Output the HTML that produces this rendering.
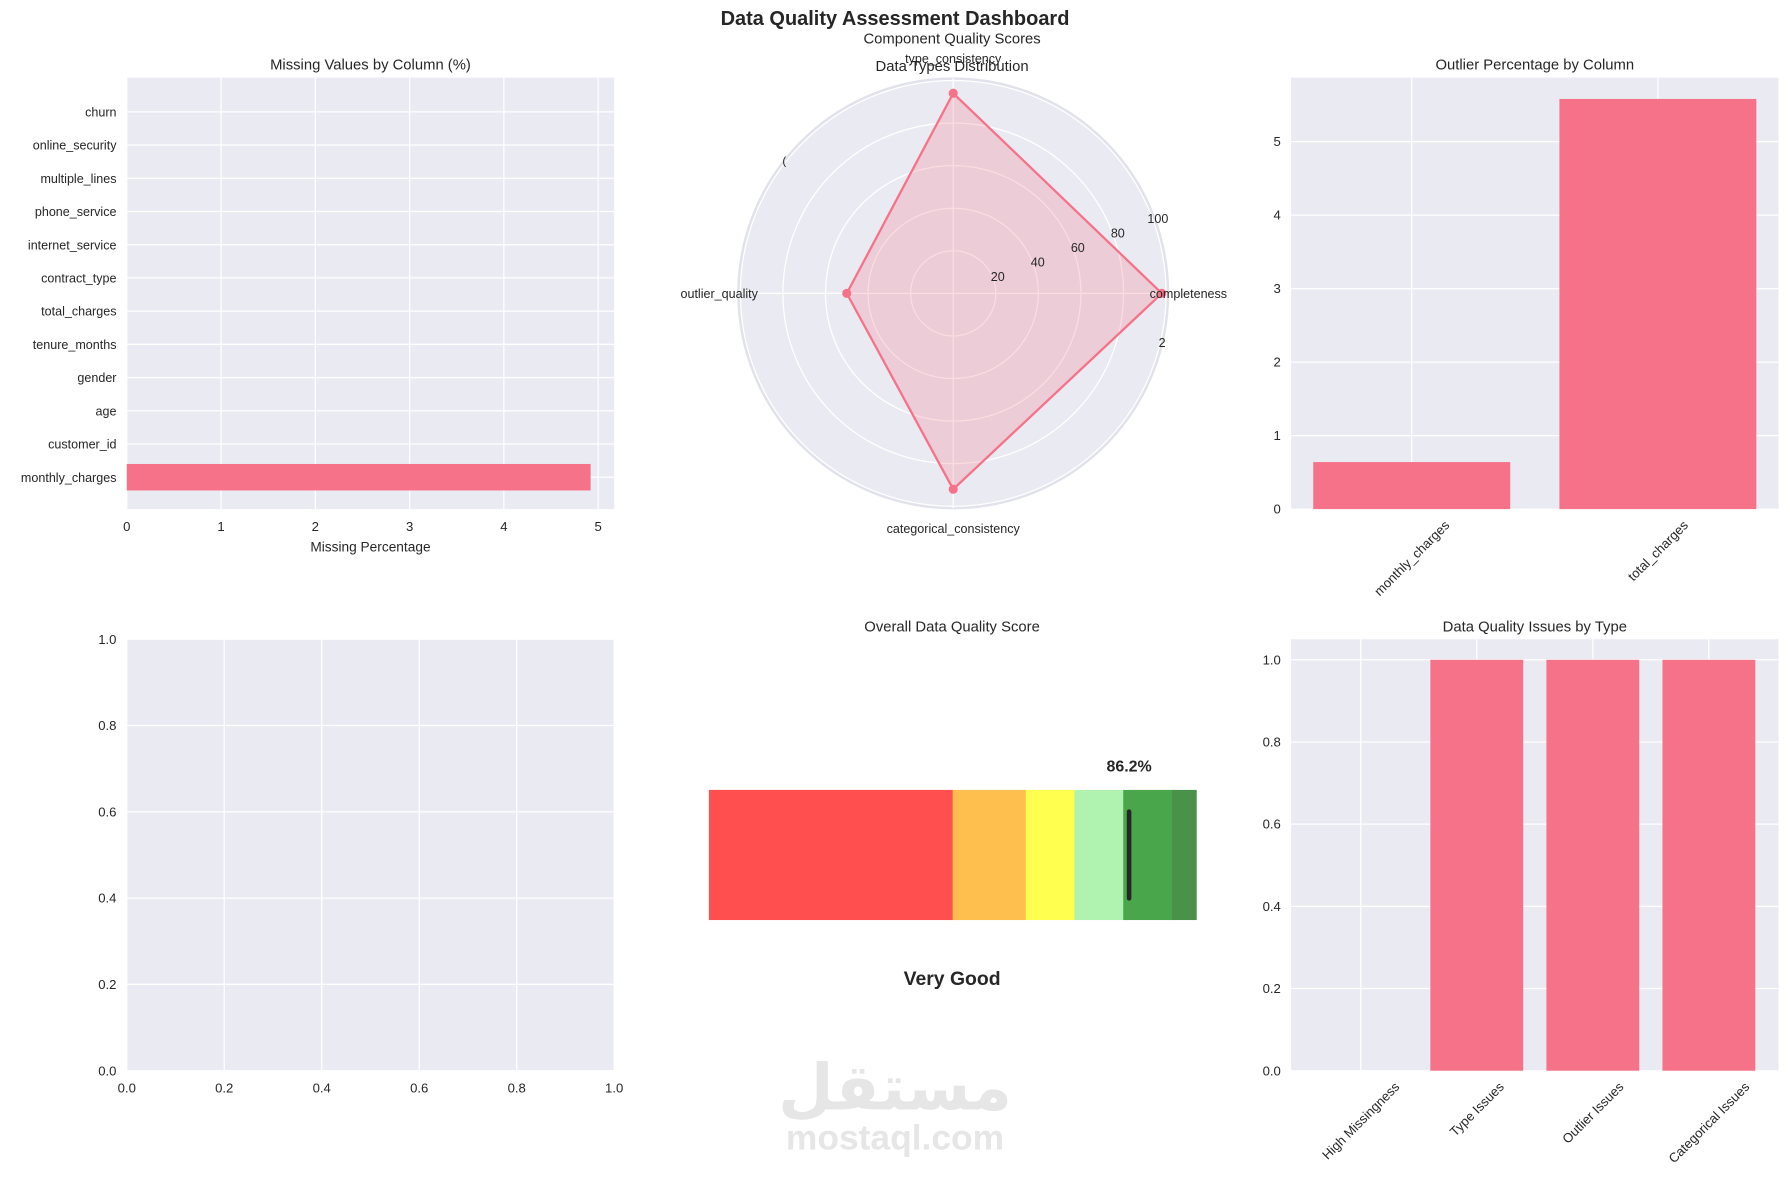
<!DOCTYPE html>
<html><head><meta charset="utf-8"><style>
html,body{margin:0;padding:0;background:#fff;}
svg{display:block;font-family:"Liberation Sans","DejaVu Sans",sans-serif;}
</style></head><body>
<svg id="s" width="1790" height="1181" viewBox="0 0 1568 1034.6" xmlns="http://www.w3.org/2000/svg">
<text x="784" y="22" text-anchor="middle" font-size="17.5" font-weight="bold" fill="#262626">Data Quality Assessment Dashboard</text>
<g fill="#e6e6e6" font-weight="bold" text-anchor="middle">
<text x="784" y="972" font-size="56" font-family="'DejaVu Sans',sans-serif">مستقل</text>
<text x="784" y="1007" font-size="31">mostaql.com</text>
</g>
</svg>
<script>
const NS="http://www.w3.org/2000/svg";
const svg=document.getElementById('s');
const BAR="#f57288",BG="#eaeaf2",TXT="#262626";

const missingCats=["monthly_charges","customer_id","age","gender","tenure_months","total_charges","contract_type","internet_service","phone_service","multiple_lines","online_security","churn"];
const missingVals=[4.92,0,0,0,0,0,0,0,0,0,0,0];
const missingTicks=[0,1,2,3,4,5];

const radarCats=["completeness","type_consistency","outlier_quality","categorical_consistency"];
const radarVals=[98,94,50,92];
const radarTicks=[20,40,60,80,100];

const outlierCats=["monthly_charges","total_charges"];
const outlierVals=[0.64,5.58];
const outlierTicks=[0,1,2,3,4,5];

const emptyTicks=[0,0.2,0.4,0.6,0.8,1.0];

const gaugeBounds=[0,50,65,75,85,95,100];
const gaugeColors=["#ff4f4f","#ffbf4f","#ffff4f","#b0f2b0","#4aa64a","#4a914a"];
const overallScore=86.2;
const overallLabel="Very Good";

const issueCats=["High Missingness","Type Issues","Outlier Issues","Categorical Issues"];
const issueVals=[0,1,1,1];
const issueTicks=[0,0.2,0.4,0.6,0.8,1.0];

function el(tag,attrs,parent,text){const e=document.createElementNS(NS,tag);for(const k in attrs)e.setAttribute(k,attrs[k]);if(text!==undefined)e.textContent=text;(parent||svg).appendChild(e);return e;}
function lin(d0,d1,r0,r1){return v=>r0+(v-d0)*(r1-r0)/(d1-d0);}

// Panel 1: missing values
(function(){
const g=el('g',{});


const L=111,R=538,T=68,B=446;
const x=lin(0,5.17,L,R), y=lin(-0.96,12.03,B,T);
el('rect',{x:L,y:T,width:R-L,height:B-T,fill:BG},g);
missingTicks.forEach(t=>{el('line',{x1:x(t),x2:x(t),y1:T,y2:B,stroke:'#fff','stroke-width':1.1},g);
 const tl=el('text',{x:x(t),y:B+19,'text-anchor':'middle','font-size':11.5,fill:TXT},g,String(t));
 });
missingCats.forEach((c,i)=>{el('line',{x1:L,x2:R,y1:y(i),y2:y(i),stroke:'#fff','stroke-width':1.1},g);
 const tl=el('text',{x:L-9,y:y(i)+4,'text-anchor':'end','font-size':11,fill:TXT},g,c);
 });
missingCats.forEach((c,i)=>{if(missingVals[i]>0){const r=el('rect',{x:x(0),y:y(i)-11.6,width:x(missingVals[i])-x(0),height:23.2,fill:BAR},g);
 }});
const t=el('text',{x:(L+R)/2,y:T-7,'text-anchor':'middle','font-size':13,fill:TXT},g,'Missing Values by Column (%)');

const xl=el('text',{x:(L+R)/2,y:483,'text-anchor':'middle','font-size':12,fill:TXT},g,'Missing Percentage');

})();

// Panel 2: radar
(function(){
const g=el('g',{});


const cx=835,cy=257,scale=1.865;
const r=v=>v*scale;
el('circle',{cx:cx,cy:cy,r:r(100)+1.5,fill:BG,stroke:'#e2e2ec','stroke-width':2.5},g);
radarTicks.forEach(t=>el('circle',{cx:cx,cy:cy,r:r(t),fill:'none',stroke:'#fff','stroke-width':1.1},g));
radarCats.forEach((c,i)=>{const a=i*Math.PI/2;el('line',{x1:cx,y1:cy,x2:cx+r(101)*Math.cos(a),y2:cy-r(101)*Math.sin(a),stroke:'#fff','stroke-width':1.1},g);});
const pts=radarVals.map((v,i)=>{const a=i*Math.PI/2;return [cx+r(v)*Math.cos(a),cy-r(v)*Math.sin(a)];});
const poly=el('polygon',{points:pts.map(p=>p.join(',')).join(' '),fill:BAR,'fill-opacity':0.25,stroke:BAR,'stroke-width':2},g);

pts.forEach((p,i)=>{const c=el('circle',{cx:p[0],cy:p[1],r:4,fill:BAR},g);
 });
radarTicks.forEach(t=>{const a=20*Math.PI/180;const tl=el('text',{x:cx+r(t)*Math.cos(a)+4,y:cy-r(t)*Math.sin(a)+2,'text-anchor':'middle','font-size':11,fill:TXT},g,String(t));
 });
const lp=[[1041,261,'middle'],[835,55,'middle'],[630,261,'middle'],[835,467,'middle']];
radarCats.forEach((c,i)=>{const tl=el('text',{x:lp[i][0],y:lp[i][1],'text-anchor':lp[i][2],'font-size':11,fill:TXT},g,c);
 });
el('text',{x:1018,y:304,'font-size':11,fill:TXT,'text-anchor':'middle'},g,'2');
el('text',{x:687,y:144,'font-size':10,fill:TXT,'text-anchor':'middle'},g,'(');
const t1=el('text',{x:834,y:38,'text-anchor':'middle','font-size':13,fill:TXT},g,'Component Quality Scores');

const t2=el('text',{x:834,y:62,'text-anchor':'middle','font-size':13,fill:TXT},g,'Data Types Distribution');

})();

function vbar(cats,vals,ticks,box,ymax,pad,name,title,fmt){
const g=el('g',{});


const [L,R,T,B]=box;const n=cats.length;
const xs=lin(-pad,n-1+pad,L,R);
const y=lin(0,ymax,B,T);
el('rect',{x:L,y:T,width:R-L,height:B-T,fill:BG},g);
ticks.forEach(t=>{el('line',{x1:L,x2:R,y1:y(t),y2:y(t),stroke:'#fff','stroke-width':1.1},g);
 const tl=el('text',{x:L-9,y:y(t)+4,'text-anchor':'end','font-size':11.5,fill:TXT},g,fmt(t));
 });
cats.forEach((c,i)=>el('line',{x1:xs(i),x2:xs(i),y1:T,y2:B,stroke:'#fff','stroke-width':1.1},g));
cats.forEach((c,i)=>{const w=xs(0.4)-xs(-0.4);
 if(vals[i]>0){const r=el('rect',{x:xs(i)-w/2,y:y(vals[i]),width:w,height:y(0)-y(vals[i]),fill:BAR},g);
 }
 const tl=el('text',{'text-anchor':'middle','font-size':11.5,fill:TXT},g,c);
 
 const len=tl.getComputedTextLength()||c.length*6;
 const d=len*0.3536;const ccx=xs(i),ccy=B+8+d+4;
 tl.setAttribute('x',ccx);tl.setAttribute('y',ccy+4);
 tl.setAttribute('transform','rotate(-45 '+ccx+' '+ccy+')');});
const t=el('text',{x:(L+R)/2,y:T-7,'text-anchor':'middle','font-size':13,fill:TXT},g,title);

}
vbar(outlierCats,outlierVals,outlierTicks,[1131,1558,68,446],5.87,0.49,'outlier-chart','Outlier Percentage by Column',t=>String(t));
vbar(issueCats,issueVals,issueTicks,[1131,1558,560,938],1.05,0.6,'issues-chart','Data Quality Issues by Type',t=>t.toFixed(1));

// Panel 4: empty axes
(function(){
const g=el('g',{});


const L=111,R=538,T=560,B=938;const x=lin(0,1,L,R),y=lin(0,1,B,T);
el('rect',{x:L,y:T,width:R-L,height:B-T,fill:BG},g);
emptyTicks.forEach(t=>{el('line',{x1:x(t),x2:x(t),y1:T,y2:B,stroke:'#fff','stroke-width':1.1},g);
 el('line',{x1:L,x2:R,y1:y(t),y2:y(t),stroke:'#fff','stroke-width':1.1},g);
 const a=el('text',{x:x(t),y:B+19,'text-anchor':'middle','font-size':11.5,fill:TXT},g,t.toFixed(1));
 
 const b=el('text',{x:L-9,y:y(t)+4,'text-anchor':'end','font-size':11.5,fill:TXT},g,t.toFixed(1));
 });
})();

// Panel 5: gauge
(function(){
const g=el('g',{});


const x=lin(0,100,621,1048);const T=692,B=806;
for(let i=0;i<gaugeColors.length;i++){const r=el('rect',{x:x(gaugeBounds[i]),y:T,width:x(gaugeBounds[i+1])-x(gaugeBounds[i])+0.3,height:B-T,fill:gaugeColors[i]},g);
 }
const n=el('line',{x1:x(overallScore),x2:x(overallScore),y1:711,y2:787,stroke:'#262626','stroke-width':4,'stroke-linecap':'round'},g);

const v=el('text',{x:x(overallScore),y:676,'text-anchor':'middle','font-size':14,'font-weight':'bold',fill:TXT},g,overallScore.toFixed(1)+'%');

const l=el('text',{x:834,y:863,'text-anchor':'middle','font-size':17,'font-weight':'bold',fill:TXT},g,overallLabel);

const t=el('text',{x:834,y:553,'text-anchor':'middle','font-size':13,fill:TXT},g,'Overall Data Quality Score');

})();
</script>
</body></html>
